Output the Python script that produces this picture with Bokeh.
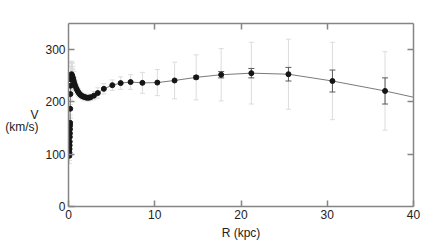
from bokeh.plotting import figure
from bokeh.models import (ColumnDataSource, Whisker, TeeHead, LinearAxis,
                          FixedTicker, Range1d)
from bokeh.embed import file_html
from bokeh.resources import INLINE

# ---- data ----
r_kpc = [0.10, 0.11, 0.12, 0.13, 0.14, 0.15, 0.16, 0.17, 0.18, 0.19, 0.20,
         0.22, 0.24, 0.27, 0.30, 0.35, 0.40, 0.45, 0.50, 0.55, 0.60, 0.70,
         0.80, 0.93, 1.05, 1.16, 1.30, 1.43, 1.60, 1.74, 1.95, 2.13, 2.35,
         2.56, 2.95, 3.40, 4.10, 5.08, 6.05, 7.20, 8.57, 10.3, 12.3, 14.8,
         17.7, 21.2, 25.5, 30.6, 36.7]
v_kms = [97, 103, 110, 117, 124, 133, 140, 148, 155, 160, 187,
         215, 231, 243, 250, 253, 251, 249, 246, 243, 240, 235,
         230, 225, 221, 218, 215, 213, 211, 210, 209, 208, 208,
         209, 212, 217, 225, 232, 236, 238, 236.5, 237, 241, 247,
         252, 255, 253, 240, 221]
err_wide = [15, 15, 15, 15, 15, 15, 15, 15, 15, 15, 18,
            20, 22, 25, 25, 25, 25, 25, 22, 20, 18, 12,
            10, 8, 8, 7, 6, 6, 6, 6, 6, 6, 6,
            6, 8, 10, 10, 10, 12, 14, 20, 25, 35, 43,
            50, 59, 67, 74, 75]

r_outer = [14.8, 17.7, 21.2, 25.5, 30.6, 36.7]
v_outer = [247, 252, 255, 253, 240, 221]
err_narrow = [3, 6, 9, 13, 21, 25]

curve_r = [0.08, 0.10, 0.14, 0.18, 0.20, 0.24, 0.30, 0.35, 0.45, 0.60, 0.80,
           1.05, 1.30, 1.60, 1.95, 2.35, 2.95, 3.40, 4.10, 5.08, 6.05, 7.20,
           8.57, 10.3, 12.3, 14.8, 17.7, 21.2, 25.5, 30.6, 36.7, 40.0]
curve_v = [92, 97, 124, 155, 187, 231, 250, 253, 249, 240, 230,
           221, 215, 211, 209, 208, 212, 217, 225, 232, 236, 238,
           236.5, 237, 241, 247, 252, 255, 253, 240, 221, 209]

x_ticks = [0, 10, 20, 30, 40]
y_ticks = [0, 100, 200, 300]
x_title = "R (kpc)"
y_title = "\nV\n(km/s)"

# ---- figure ----
p = figure(width=428, height=242, x_range=Range1d(0, 40), y_range=Range1d(0, 350),
           output_backend="svg", toolbar_location=None,
           min_border_left=68, min_border_right=15, min_border_top=23,
           min_border_bottom=36)
p.grid.visible = False
p.outline_line_color = None
p.background_fill_color = "white"
p.border_fill_color = "white"

AX = "#858585"
FONT = "Liberation Sans"
TXT = "#222222"


def style(ax, ticks, labels=True):
    ax.ticker = FixedTicker(ticks=ticks)
    ax.axis_line_color = AX
    ax.axis_line_width = 1.5
    ax.major_tick_line_color = AX
    ax.major_tick_line_width = 1.5
    ax.major_tick_in = 6
    ax.major_tick_out = 0
    ax.minor_tick_in = 0
    ax.minor_tick_out = 0
    ax.major_label_text_font = FONT
    if labels:
        ax.major_label_text_font_size = "12px"
        ax.major_label_text_color = TXT
        ax.major_label_standoff = 3
    else:
        ax.major_label_text_font_size = "1px"
        ax.major_label_text_color = None
        ax.major_label_standoff = 0


xa = p.xaxis[0]
ya = p.yaxis[0]
style(xa, x_ticks)
style(ya, y_ticks)
top = LinearAxis()
right = LinearAxis()
style(top, [10, 20, 30], labels=False)
style(right, [100, 200, 300], labels=False)
p.add_layout(top, "above")
p.add_layout(right, "right")

for ax, t in ((xa, x_title), (ya, y_title)):
    ax.axis_label = t
    ax.axis_label_text_font = FONT
    ax.axis_label_text_font_size = "12px"
    ax.axis_label_text_font_style = "normal"
    ax.axis_label_text_color = TXT
    ax.axis_label_standoff = 4
try:
    ya.axis_label_orientation = "horizontal"
except Exception:
    pass
ya.axis_label_text_align = "center"
ya.axis_label_text_line_height = 0.85

src = ColumnDataSource(dict(
    r=r_kpc, v=v_kms,
    lo=[v - e for v, e in zip(v_kms, err_wide)],
    hi=[v + e for v, e in zip(v_kms, err_wide)]))
src_o = ColumnDataSource(dict(
    r=r_outer, v=v_outer,
    lo=[v - e for v, e in zip(v_outer, err_narrow)],
    hi=[v + e for v, e in zip(v_outer, err_narrow)]))

LIGHT = "#dcdcdc"
DARK = "#5a5a5a"
w1 = Whisker(base="r", lower="lo", upper="hi", source=src, line_color=LIGHT,
             line_width=1,
             upper_head=TeeHead(size=5, line_color=LIGHT, line_width=1),
             lower_head=TeeHead(size=5, line_color=LIGHT, line_width=1))
p.add_layout(w1)

p.line(curve_r, curve_v, line_color="#7a7a7a", line_width=1)

w2 = Whisker(base="r", lower="lo", upper="hi", source=src_o, line_color=DARK,
             line_width=1,
             upper_head=TeeHead(size=6, line_color=DARK, line_width=1),
             lower_head=TeeHead(size=6, line_color=DARK, line_width=1))
p.add_layout(w2)

p.scatter("r", "v", source=src, size=5, color="#151515")

open("out.html", "w").write(file_html(p, INLINE))
